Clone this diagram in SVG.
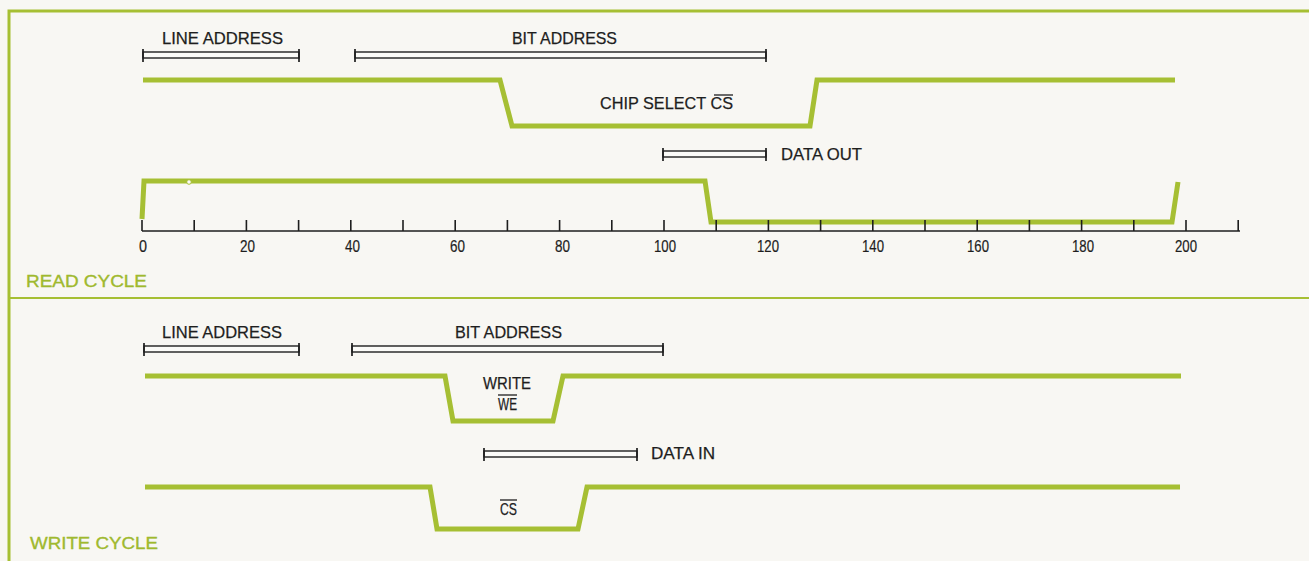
<svg xmlns="http://www.w3.org/2000/svg" width="1309" height="561" viewBox="0 0 1309 561">
<style>
.bg{fill:#f8f7f3}
.frame{fill:none;stroke:#a6bf33;stroke-width:3}
.div{fill:none;stroke:#a6bf33;stroke-width:2}
.sig{fill:none;stroke:#a6bf33;stroke-width:5;stroke-linejoin:miter;stroke-linecap:butt}
.bar{fill:#fbfbf8;stroke:#1e1e1e;stroke-width:1.4}
.cap{stroke:#1e1e1e;stroke-width:1.7}
.axis{stroke:#1e1e1e;stroke-width:1.6;fill:none}
.t{font-family:'Liberation Sans',Arial,sans-serif;font-size:17px;fill:#1e1e1e;stroke:#1e1e1e;stroke-width:0.25}
.num{font-family:'Liberation Sans',Arial,sans-serif;font-size:17px;fill:#1e1e1e;stroke:#1e1e1e;stroke-width:0.2}
.g{font-family:'Liberation Sans',Arial,sans-serif;font-size:17px;fill:#9fb92e;stroke:#9fb92e;stroke-width:0.35}
.ov{stroke:#1e1e1e;stroke-width:1.3}
</style>
<rect class="bg" x="0" y="0" width="1309" height="561"/>
<g id="frame">
<path class="frame" d="M9,561 V11 H1309"/>
<line class="div" x1="8" y1="298" x2="1309" y2="298"/>
</g>

<g id="read-cycle">
<g id="read-line-address">
<text class="t" x="162" y="44" textLength="121" lengthAdjust="spacingAndGlyphs">LINE ADDRESS</text>
<rect class="bar" x="143" y="52" width="156" height="6"/>
<line class="cap" x1="143" y1="49" x2="143" y2="62"/><line class="cap" x1="299" y1="49" x2="299" y2="62"/>
</g>
<g id="read-bit-address">
<text class="t" x="512" y="44" textLength="105" lengthAdjust="spacingAndGlyphs">BIT ADDRESS</text>
<rect class="bar" x="355" y="52" width="411" height="6"/>
<line class="cap" x1="355" y1="49" x2="355" y2="62"/><line class="cap" x1="766" y1="49" x2="766" y2="62"/>
</g>
<g id="read-cs">
<path class="sig" d="M143,80 H500 L512,126 H810 L817,80 H1175"/>
<text class="t" x="600" y="109" textLength="133" lengthAdjust="spacingAndGlyphs">CHIP SELECT  CS</text>
<line class="ov" x1="714" y1="95" x2="733" y2="95"/>
</g>
<g id="read-data-out">
<rect class="bar" x="663" y="151" width="103" height="6"/>
<line class="cap" x1="663" y1="148" x2="663" y2="161"/><line class="cap" x1="766" y1="148" x2="766" y2="161"/>
<text class="t" x="781" y="160" textLength="81" lengthAdjust="spacingAndGlyphs">DATA OUT</text>
</g>
<g id="read-data-signal">
<path class="sig" d="M142,219 L144,181 H705 L711,222 H1172 L1178,182"/>
<circle cx="189" cy="182" r="2.3" fill="#fbfbf8" stroke="#a6bf33" stroke-width="1"/>
</g>
<g id="axis">
<line class="axis" x1="142" y1="231" x2="1240" y2="231"/>
<path class="axis" d="M142.0,220V231M194.2,220V231M246.4,220V231M298.6,220V231M350.8,220V231M403.0,220V231M455.2,220V231M507.4,220V231M559.6,220V231M611.8,220V231M664.0,220V231M716.2,220V231M768.4,220V231M820.6,220V231M872.8,220V231M925.0,220V231M977.2,220V231M1029.4,220V231M1081.6,220V231M1133.8,220V231M1186.0,220V231M1238.2,220V231"/>
<text class="num" x="139" y="252" textLength="8" lengthAdjust="spacingAndGlyphs">0</text>
<text class="num" x="240" y="252" textLength="15" lengthAdjust="spacingAndGlyphs">20</text>
<text class="num" x="345" y="252" textLength="15" lengthAdjust="spacingAndGlyphs">40</text>
<text class="num" x="450" y="252" textLength="15" lengthAdjust="spacingAndGlyphs">60</text>
<text class="num" x="555" y="252" textLength="15" lengthAdjust="spacingAndGlyphs">80</text>
<text class="num" x="654" y="252" textLength="22" lengthAdjust="spacingAndGlyphs">100</text>
<text class="num" x="757" y="252" textLength="22" lengthAdjust="spacingAndGlyphs">120</text>
<text class="num" x="862" y="252" textLength="22" lengthAdjust="spacingAndGlyphs">140</text>
<text class="num" x="967" y="252" textLength="22" lengthAdjust="spacingAndGlyphs">160</text>
<text class="num" x="1072" y="252" textLength="22" lengthAdjust="spacingAndGlyphs">180</text>
<text class="num" x="1175" y="252" textLength="22" lengthAdjust="spacingAndGlyphs">200</text>
</g>
<text class="g" x="26" y="287" textLength="121" lengthAdjust="spacingAndGlyphs">READ CYCLE</text>
</g>

<g id="write-cycle">
<g id="write-line-address">
<text class="t" x="162" y="338" textLength="120" lengthAdjust="spacingAndGlyphs">LINE ADDRESS</text>
<rect class="bar" x="144" y="346" width="155" height="6"/>
<line class="cap" x1="144" y1="343" x2="144" y2="356"/><line class="cap" x1="299" y1="343" x2="299" y2="356"/>
</g>
<g id="write-bit-address">
<text class="t" x="455" y="338" textLength="107" lengthAdjust="spacingAndGlyphs">BIT ADDRESS</text>
<rect class="bar" x="352" y="346" width="311" height="6"/>
<line class="cap" x1="352" y1="343" x2="352" y2="356"/><line class="cap" x1="663" y1="343" x2="663" y2="356"/>
</g>
<g id="write-we">
<path class="sig" d="M145,376 H445 L453,421 H553 L563,376 H1181"/>
<text class="t" x="483" y="389" textLength="48" lengthAdjust="spacingAndGlyphs">WRITE</text>
<text class="t" x="498" y="410" textLength="19" lengthAdjust="spacingAndGlyphs">WE</text>
<line class="ov" x1="498" y1="395" x2="517" y2="395"/>
</g>
<g id="write-data-in">
<rect class="bar" x="484" y="451" width="153" height="6"/>
<line class="cap" x1="484" y1="448" x2="484" y2="461"/><line class="cap" x1="637" y1="448" x2="637" y2="461"/>
<text class="t" x="651" y="459" textLength="64" lengthAdjust="spacingAndGlyphs">DATA IN</text>
</g>
<g id="write-cs">
<path class="sig" d="M145,487 H430 L437,529 H578 L587,487 H1180"/>
<text class="t" x="500" y="515" textLength="17" lengthAdjust="spacingAndGlyphs">CS</text>
<line class="ov" x1="500" y1="500" x2="517" y2="500"/>
</g>
<text class="g" x="30" y="549" textLength="128" lengthAdjust="spacingAndGlyphs">WRITE CYCLE</text>
</g>
</svg>
